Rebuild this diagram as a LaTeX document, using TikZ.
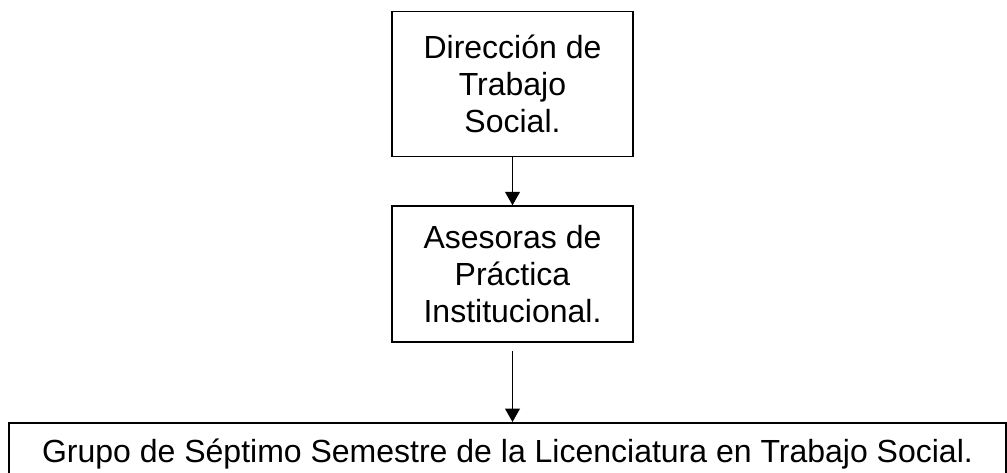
\documentclass[tikz,border=0pt]{standalone}
\usepackage{fontspec}
\setmainfont{Liberation Sans}
\usepackage{tikz}
\usetikzlibrary{arrows.meta,positioning}

\begin{document}
\begin{tikzpicture}[
        x=0.75pt, y=-0.75pt,
        every node/.style={font=\fontsize{24}{28}\selectfont},
        box/.style={draw=black, line width=1.2pt, minimum width=180.75pt, minimum height=108.75pt, align=center, inner sep=0pt},
        wide/.style={draw=black, line width=1.2pt, minimum width=747.75pt, minimum height=60pt, text height=10pt, text depth=10pt, inner sep=0pt},
        arr/.style={-{Triangle[width=11pt,length=10pt]}, line width=1.2pt, draw=black}
      ]
        \useasboundingbox (0,0) rectangle (1007,472);
        \node[box] (direccion) at (512.5,84) {Dirección de\\Trabajo\\Social.};
        \node[box, minimum height=102pt, below=36pt of direccion] (asesoras) {Asesoras de\\Práctica\\Institucional.};
        \node[wide, anchor=north] (grupo) at (507.5,422) {Grupo de Séptimo Semestre de la Licenciatura en Trabajo Social.};
        \draw[arr] (direccion) -- (asesoras);
        \draw[arr, shorten <=6pt] (asesoras.south) -- (asesoras.south |- grupo.north);
      \end{tikzpicture}
\end{document}
